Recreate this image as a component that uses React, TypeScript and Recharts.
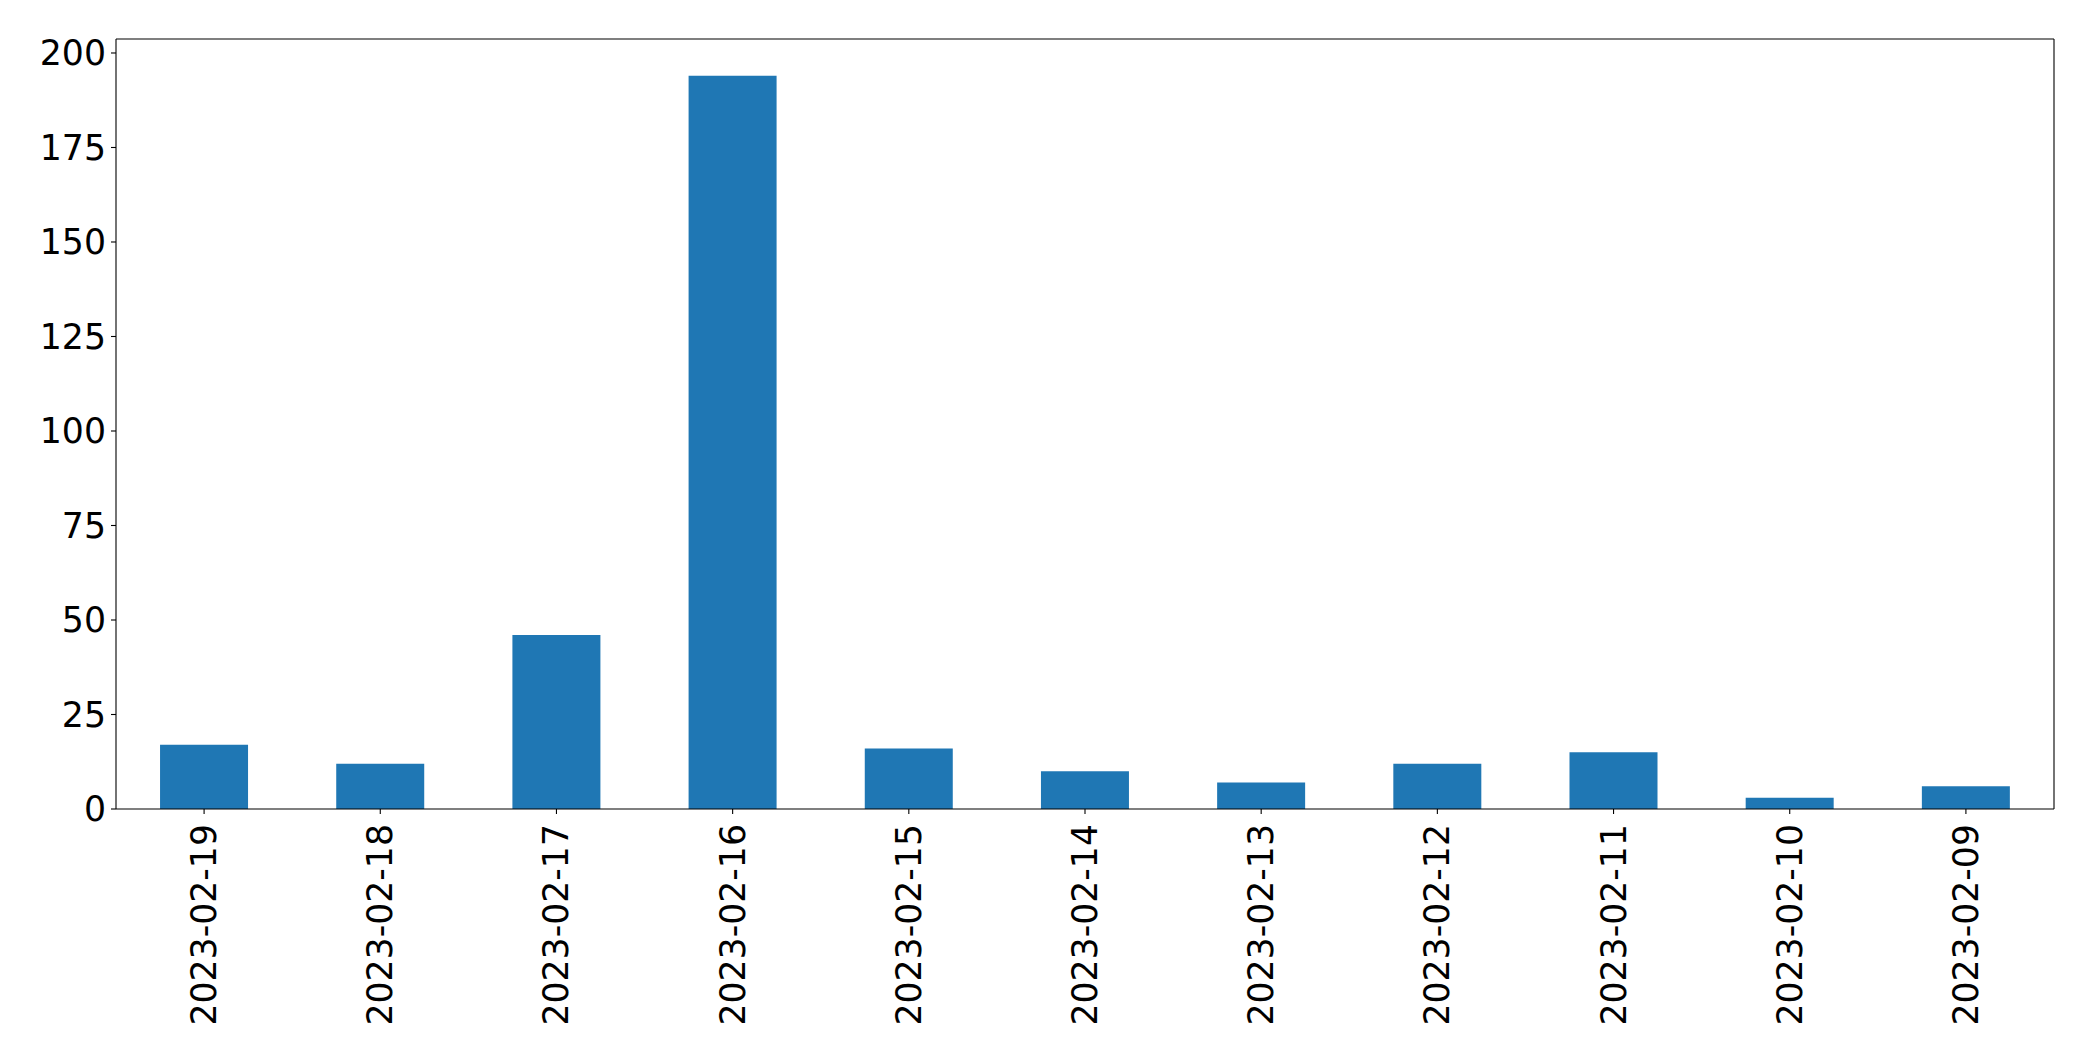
import { Bar, BarChart, XAxis, YAxis } from "recharts";

const dates = [
  "2023-02-19",
  "2023-02-18",
  "2023-02-17",
  "2023-02-16",
  "2023-02-15",
  "2023-02-14",
  "2023-02-13",
  "2023-02-12",
  "2023-02-11",
  "2023-02-10",
  "2023-02-09",
];
const counts = [17, 12, 46, 194, 16, 10, 7, 12, 15, 3, 6];
const yTicks = [0, 25, 50, 75, 100, 125, 150, 175, 200];

const data = dates.map((date, i) => ({ date, count: counts[i] }));

const FONT = "DejaVu Sans, sans-serif";
const FONT_SIZE = 34.7;
const AXIS = { stroke: "#000", strokeWidth: 1.1 };

function DateTick({ x, y, payload }: any) {
  return (
    <text
      x={x}
      y={y}
      transform={`rotate(-90, ${x}, ${y})`}
      textAnchor="end"
      dominantBaseline="central"
      fontSize={FONT_SIZE}
      fontFamily={FONT}
      fill="#000"
    >
      {payload.value}
    </text>
  );
}

export default function App() {
  return (
    <div style={{ position: "absolute", left: 0, top: 0, width: 2093, height: 1061, background: "#fff" }}>
      <BarChart
        width={2093}
        height={1061}
        data={data}
        margin={{ top: 38, right: 38, bottom: 0, left: 0 }}
        barCategoryGap="25%"
      >
        <XAxis
          dataKey="date"
          height={252}
          axisLine={AXIS}
          tickLine={AXIS}
          tickSize={5}
          tickMargin={10}
          interval={0}
          tick={<DateTick />}
        />
        <XAxis xAxisId="top" dataKey="date" orientation="top" height={1} axisLine={AXIS} tick={false} tickLine={false} />
        <YAxis
          width={116}
          domain={[0, (max: number) => max * 1.05]}
          ticks={yTicks}
          axisLine={AXIS}
          tickLine={AXIS}
          tickSize={5}
          tickMargin={5}
          tick={{ fontSize: FONT_SIZE, fontFamily: FONT, fill: "#000" }}
        />
        <YAxis yAxisId="right" orientation="right" width={1} axisLine={AXIS} tick={false} tickLine={false} />
        <Bar dataKey="count" fill="#1f77b4" isAnimationActive={false} />
      </BarChart>
    </div>
  );
}
